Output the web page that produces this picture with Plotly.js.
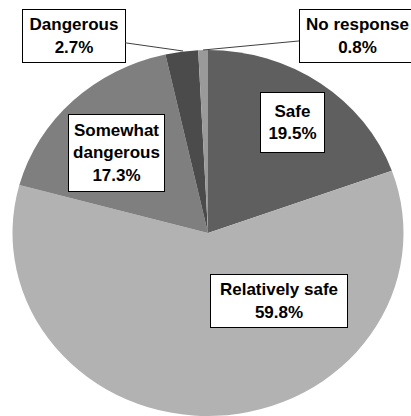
<!DOCTYPE html>
<html>
<head>
<meta charset="utf-8">
<script src="https://cdn.plot.ly/plotly-3.0.1.min.js"></script>
<style>html,body{margin:0;padding:0;background:#fff;}#chart{width:411px;height:416px;}</style>
</head>
<body>
<div id="chart"></div>
<script>
// Data (clockwise from 12 o'clock)
var categories = ["Safe", "Relatively safe", "Somewhat dangerous", "Dangerous", "No response"];
var labelTexts = ["Safe", "Relatively safe", "Somewhat<br>dangerous", "Dangerous", "No response"];
var values = [19.5, 59.8, 17.3, 2.7, 0.8];
var percentLabels = ["19.5%", "59.8%", "17.3%", "2.7%", "0.8%"];
var sliceColors = ["#5f5f5f", "#b2b2b2", "#7f7f7f", "#4b4b4b", "#9a9a9a"];

var W = 411, H = 416;
function px(x) { return x / W; }
function py(y) { return 1 - y / H; }

// label box settings (center px, box size)
var boxes = [
  {cx: 292, cy: 122, w: 63, h: 59},
  {cx: 278.5, cy: 300.5, w: 136, h: 52},
  {cx: 116, cy: 152.5, w: 95, h: 76},
  {cx: 73.5, cy: 35.5, w: 102, h: 52, arrow: [183, 51]},
  {cx: 357, cy: 35.5, w: 115, h: 52, arrow: [203, 50]}
];

var font = {family: "Liberation Sans, Arial, sans-serif", size: 17, color: "#000"};

var annotations = categories.map(function (c, i) {
  var b = boxes[i];
  var a = {
    xref: "paper", yref: "paper",
    text: "<b>" + labelTexts[i] + "<br>" + percentLabels[i] + "</b>",
    font: font,
    bgcolor: "#ffffff", bordercolor: "#000000", borderwidth: 1, borderpad: 0,
    width: b.w, height: b.h, align: "center", valign: "middle"
  };
  if (b.arrow) {
    a.x = px(b.arrow[0]); a.y = py(b.arrow[1]);
    a.showarrow = true; a.arrowhead = 0; a.arrowwidth = 1; a.arrowcolor = "#404040";
    a.axref = "pixel"; a.ayref = "pixel";
    a.ax = b.cx - b.arrow[0]; a.ay = b.cy - b.arrow[1];
  } else {
    a.x = px(b.cx); a.y = py(b.cy);
    a.xanchor = "center"; a.yanchor = "middle";
    a.showarrow = false;
  }
  return a;
});

var trace = {
  type: "pie",
  labels: categories,
  values: values,
  sort: false,
  direction: "clockwise",
  rotation: 0,
  textinfo: "none",
  hoverinfo: "label+percent",
  marker: {colors: sliceColors, line: {width: 0}},
  domain: {x: [px(25), px(391)], y: [0, py(50)]},
  showlegend: false
};

var layout = {
  width: W, height: H,
  margin: {l: 0, r: 0, t: 0, b: 0},
  paper_bgcolor: "#ffffff",
  showlegend: false,
  annotations: annotations
};

Plotly.newPlot("chart", [trace], layout, {displayModeBar: false, staticPlot: true}).then(function () {
  // stretch pie horizontally to match the slightly oval reference
  var g = document.querySelector(".pielayer");
  if (g) {
    var cx = 208, sx = 195.5 / 183;
    g.setAttribute("transform", "translate(" + cx + ",0) scale(" + sx + ",1) translate(" + (-cx) + ",0)");
  }
});
</script>
</body>
</html>
